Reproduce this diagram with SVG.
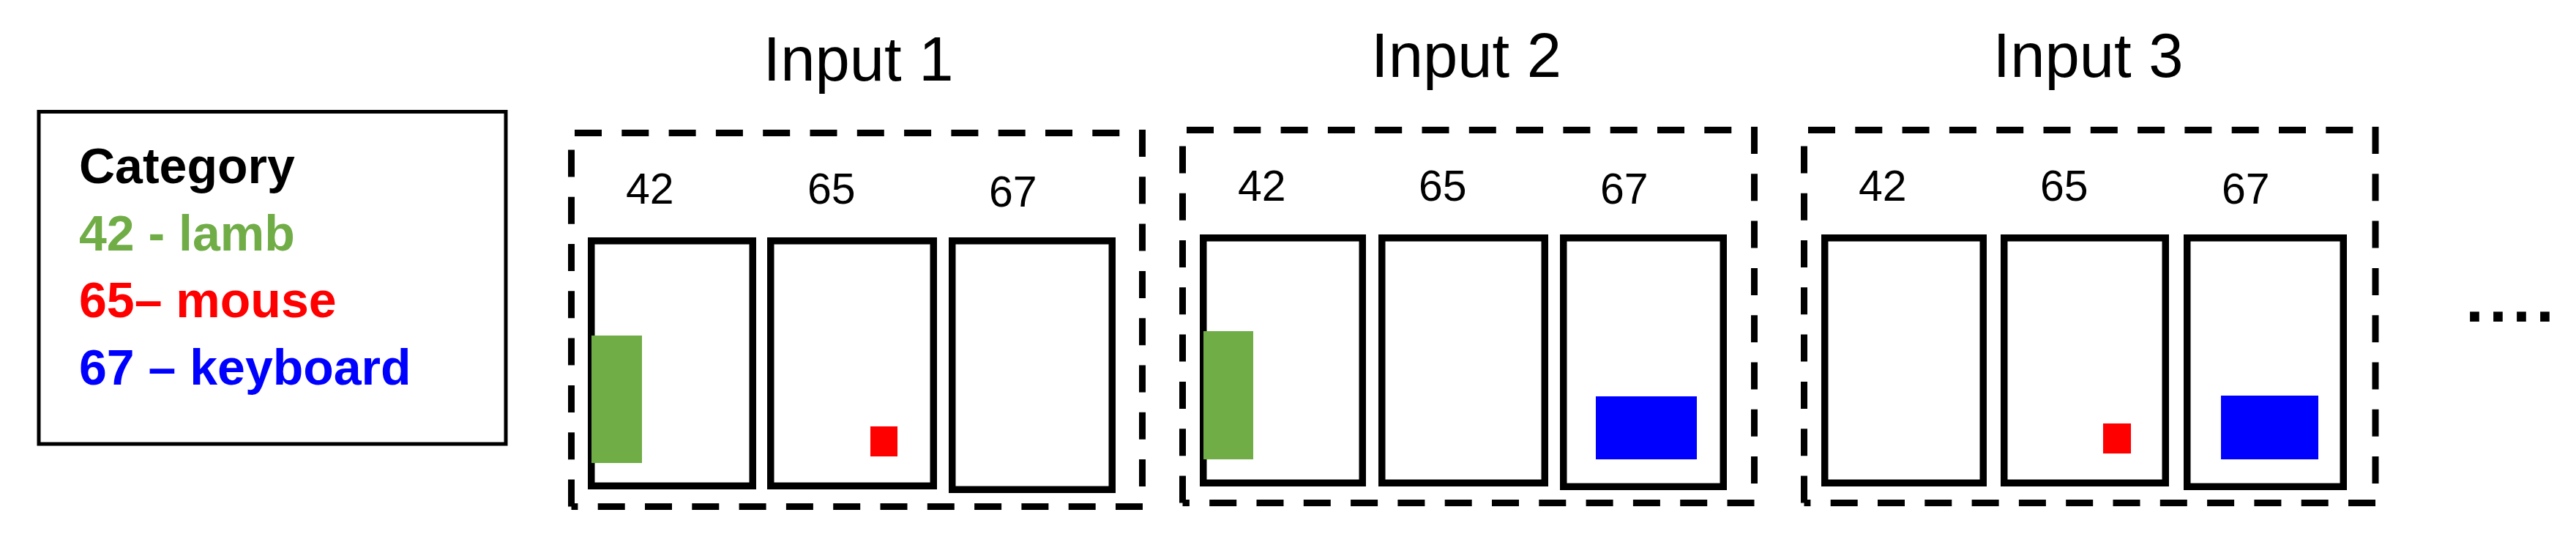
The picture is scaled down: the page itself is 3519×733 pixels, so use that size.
<svg xmlns="http://www.w3.org/2000/svg" width="3519" height="733" viewBox="0 0 3519 733">
<style>
.bg{fill:#ffffff}
.legend{fill:none;stroke:#000;stroke-width:5}
.dash{fill:none;stroke:#000;stroke-width:9;stroke-dasharray:37 27.3;stroke-linecap:butt}
.cell{fill:#ffffff;stroke:#000;stroke-width:9.5}
.lamb{fill:#70AD47}
.mouse{fill:#FF0000}
.kb{fill:#0000FF}
.title{font-family:"Liberation Sans",Arial,sans-serif;font-size:85px;fill:#000;text-anchor:middle}
.num{font-family:"Liberation Sans",Arial,sans-serif;font-size:59px;fill:#000}
.leg{font-family:"Liberation Sans",Arial,sans-serif;font-size:68px;font-weight:bold}
.dots{font-family:"Liberation Sans",Arial,sans-serif;font-size:90px;font-weight:bold;letter-spacing:7px;fill:#000}
</style>
<rect class="bg" x="0" y="0" width="3519" height="733"/>

<g id="legend">
  <rect class="legend" x="53" y="152.5" width="638" height="453.5"/>
  <text class="leg" x="108" y="250" fill="#000000">Category</text>
  <text class="leg" x="108" y="341.5" fill="#70AD47">42 - lamb</text>
  <text class="leg" x="108" y="433" fill="#FF0000">65– mouse</text>
  <text class="leg" x="108" y="525" fill="#0000FF">67 – keyboard</text>
</g>

<g id="input1">
  <text class="title" x="1172.5" y="110">Input 1</text>
  <path class="dash" d="M785 181.5 H1560.5"/>
  <path class="dash" d="M1560.5 177 V691.5"/>
  <path class="dash" d="M1561 691.5 H780.5"/>
  <path class="dash" d="M780.5 691.5 V181.5"/>
  <text class="num" x="855" y="277.5">42</text>
  <text class="num" x="1103" y="277.5">65</text>
  <text class="num" x="1351" y="281.5">67</text>
  <rect class="cell" x="807.75" y="328.75" width="220.5" height="334.5"/>
  <rect class="cell" x="1052.75" y="328.75" width="222.5" height="334.5"/>
  <rect class="cell" x="1300.75" y="328.75" width="218.5" height="339.5"/>
  <rect class="lamb" x="808" y="458" width="69" height="174"/>
  <rect class="mouse" x="1189" y="582" width="37" height="41"/>
</g>

<g id="input2">
  <text class="title" x="2003" y="105">Input 2</text>
  <path class="dash" d="M1621 177.5 H2396.5"/>
  <path class="dash" d="M2396.5 173 V686.5"/>
  <path class="dash" d="M2396.5 686.5 H1615.5"/>
  <path class="dash" d="M1615.5 686.5 V177.5"/>
  <text class="num" x="1691" y="273.5">42</text>
  <text class="num" x="1938" y="273.5">65</text>
  <text class="num" x="2186" y="277.5">67</text>
  <rect class="cell" x="1643.75" y="324.75" width="217.5" height="334.5"/>
  <rect class="cell" x="1887.75" y="324.75" width="222.5" height="334.5"/>
  <rect class="cell" x="2135.75" y="324.75" width="218.5" height="339.5"/>
  <rect class="lamb" x="1644" y="452" width="68" height="175"/>
  <rect class="kb" x="2180" y="541" width="138" height="86"/>
</g>

<g id="input3">
  <text class="title" x="2852.5" y="105">Input 3</text>
  <path class="dash" d="M2470 177.5 H3245"/>
  <path class="dash" d="M3245 173 V686.5"/>
  <path class="dash" d="M3245 686.5 H2464.5"/>
  <path class="dash" d="M2464.5 686.5 V177.5"/>
  <text class="num" x="2539" y="273.5">42</text>
  <text class="num" x="2787" y="273.5">65</text>
  <text class="num" x="3035" y="277.5">67</text>
  <rect class="cell" x="2492.75" y="324.75" width="216.5" height="334.5"/>
  <rect class="cell" x="2737.75" y="324.75" width="220.5" height="334.5"/>
  <rect class="cell" x="2987.75" y="324.75" width="213.5" height="339.5"/>
  <rect class="mouse" x="2873" y="578" width="38" height="41"/>
  <rect class="kb" x="3034" y="540" width="133" height="87"/>
</g>

<g id="ellipsis">
  <text class="dots" x="3368" y="439">....</text>
</g>
</svg>
